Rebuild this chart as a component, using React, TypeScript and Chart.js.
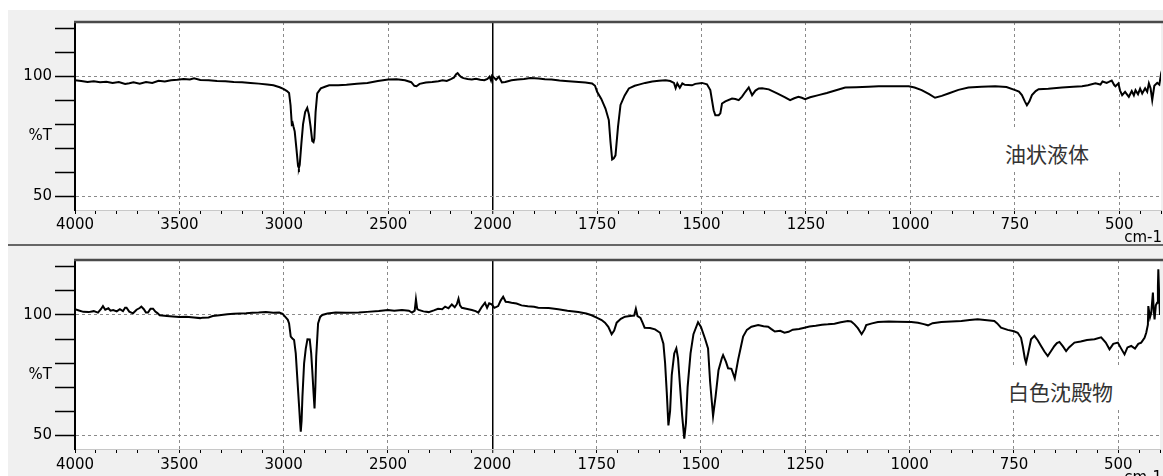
import React, { useEffect, useRef } from 'react';
import { Chart, registerables } from 'chart.js';

Chart.register(...registerables);

// ---- data (wavenumber cm-1, %T) ----
const topWavenumbers = [
  4000, 3970, 3940, 3910, 3880, 3850, 3820, 3790, 3760, 3740, 3720, 3690, 3660, 3630, 3600, 3570, 3540, 3510, 3480, 3450,
  3430, 3400, 3360, 3320, 3280, 3240, 3200, 3160, 3120, 3080, 3050, 3020, 3000, 2985, 2975, 2968, 2962, 2958, 2954, 2948,
  2940, 2932, 2928, 2924, 2916, 2908, 2898, 2888, 2880, 2872, 2864, 2858, 2854, 2848, 2840, 2823, 2800, 2783, 2740, 2700,
  2650, 2600, 2550, 2500, 2460, 2420, 2390, 2375, 2365, 2350, 2320, 2290, 2260, 2240, 2220, 2200, 2185, 2175, 2168, 2160,
  2150, 2140, 2120, 2100, 2080, 2060, 2040, 2025, 2015, 2008, 2003, 1998, 1992, 1985, 1978, 1970, 1955, 1940, 1925, 1910,
  1890, 1875, 1859, 1840, 1826, 1810, 1794, 1778, 1762, 1755, 1750, 1740, 1730, 1722, 1718, 1714, 1710, 1706, 1700, 1694,
  1684, 1674, 1660, 1650, 1635, 1618, 1602, 1586, 1575, 1566, 1562, 1558, 1552, 1546, 1540, 1523, 1515, 1499, 1487, 1479,
  1471, 1467, 1459, 1455, 1451, 1443, 1427, 1419, 1411, 1403, 1395, 1387, 1379, 1371, 1363, 1355, 1339, 1319, 1300, 1288,
  1278, 1268, 1260, 1252, 1240, 1220, 1200, 1180, 1156, 1130, 1100, 1076, 1040, 1004, 990, 973, 955, 941, 925, 909,
  885, 861, 830, 797, 770, 749, 740, 733, 726, 721, 715, 709, 700, 693, 670, 637, 610, 589, 575, 557,
  545, 540, 530, 525, 518, 512, 509, 502, 498, 493, 486, 477, 470, 465, 461, 455, 450, 445, 438, 433,
  429, 425, 421, 416, 409, 404, 401, 400,
];
const topTransmittance = [
  98.3, 98.0, 97.6, 97.9, 97.5, 97.7, 97.2, 97.6, 96.8, 97.1, 97.5, 96.9, 97.6, 97.2, 98.1, 97.8, 98.3, 98.5, 98.8, 98.6,
  99.1, 98.4, 98.3, 98.0, 97.9, 97.6, 97.5, 97.2, 96.9, 96.5, 96.2, 95.4, 94.6, 93.8, 93.0, 88.0, 80.0, 80.5, 79.0, 77.0,
  70.0, 62.5, 61.7, 63.0, 72.0, 80.0, 85.0, 86.8, 84.0, 79.0, 73.0, 72.5, 74.0, 85.0, 92.8, 94.9, 95.7, 96.2, 96.2, 96.4,
  96.8, 97.2, 98.0, 98.6, 98.7, 98.3, 97.5, 96.0, 95.8, 96.8, 97.4, 97.6, 97.9, 98.3, 98.0, 98.8, 99.5, 100.8, 101.3, 100.4,
  99.6, 99.2, 98.8, 98.6, 98.9, 98.5, 98.3, 98.9, 99.8, 98.2, 100.2, 99.6, 98.5, 99.8, 97.4, 97.6, 98.3, 98.6, 98.8, 99.2,
  99.0, 98.7, 98.6, 98.2, 98.0, 97.8, 97.6, 97.4, 97.0, 96.0, 93.5, 90.5, 86.5, 81.7, 72.6, 65.3, 65.8, 67.0, 78.9, 88.0,
  92.0, 94.9, 96.0, 96.5, 97.2, 97.8, 98.1, 98.3, 98.0, 97.2, 95.0, 97.0, 95.2, 97.0, 96.4, 96.2, 96.8, 97.2, 96.6, 94.2,
  85.8, 83.7, 83.7, 84.5, 88.6, 89.5, 90.7, 90.5, 90.0, 91.5, 93.5, 95.3, 92.1, 94.0, 94.9, 95.0, 94.5, 92.8, 91.2, 90.0,
  90.8, 91.4, 91.0, 90.4, 91.2, 92.1, 93.0, 94.0, 95.3, 95.4, 95.6, 95.8, 95.8, 95.8, 95.3, 94.2, 92.5, 91.0, 91.8, 92.8,
  94.3, 95.3, 95.6, 95.8, 95.5, 94.2, 93.6, 92.1, 89.5, 87.9, 89.5, 92.1, 93.8, 94.6, 94.8, 95.3, 95.6, 95.8, 96.2, 97.0,
  96.5, 97.8, 97.2, 97.6, 98.2, 96.3, 95.8, 97.0, 94.0, 92.1, 93.5, 91.4, 93.8, 92.0, 94.2, 92.5, 94.8, 92.8, 95.0, 93.5,
  97.0, 95.0, 90.0, 96.0, 97.2, 96.5, 99.7, 98.5,
];

const bottomWavenumbers = [
  4000, 3985, 3960, 3935, 3910, 3890, 3875, 3866, 3855, 3840, 3830, 3817, 3800, 3785, 3770, 3760, 3753, 3740, 3722, 3705,
  3690, 3682, 3670, 3660, 3650, 3638, 3626, 3615, 3605, 3594, 3560, 3531, 3500, 3467, 3430, 3400, 3388, 3360, 3340, 3308,
  3270, 3240, 3210, 3180, 3150, 3120, 3085, 3050, 3021, 3005, 2989, 2980, 2974, 2966, 2958, 2950, 2942, 2934, 2926, 2921,
  2918, 2914, 2910, 2902, 2894, 2886, 2875, 2868, 2863, 2857, 2852, 2848, 2844, 2835, 2825, 2815, 2790, 2751, 2700, 2640,
  2600, 2544, 2500, 2470, 2433, 2400, 2385, 2372, 2366, 2360, 2353, 2330, 2305, 2280, 2260, 2240, 2226, 2210, 2194, 2180,
  2170, 2162, 2155, 2146, 2125, 2098, 2080, 2067, 2050, 2035, 2025, 2015, 2003, 1995, 1986, 1980, 1974, 1968, 1962, 1954,
  1942, 1930, 1915, 1900, 1890, 1865, 1842, 1820, 1794, 1775, 1762, 1750, 1738, 1730, 1722, 1714, 1708, 1702, 1692, 1682,
  1670, 1660, 1656, 1652, 1645, 1640, 1635, 1622, 1610, 1598, 1590, 1586, 1582, 1578, 1574, 1570, 1564, 1559, 1555, 1550,
  1545, 1540, 1536, 1532, 1525, 1518, 1507, 1500, 1490, 1483, 1478, 1471, 1465, 1458, 1450, 1447, 1440, 1435, 1427, 1419,
  1411, 1404, 1399, 1390, 1379, 1363, 1350, 1339, 1332, 1323, 1310, 1300, 1290, 1280, 1265, 1252, 1240, 1225, 1210, 1196,
  1180, 1165, 1148, 1140, 1132, 1124, 1115, 1108, 1104, 1090, 1076, 1050, 1030, 996, 980, 966, 956, 945, 924, 900,
  876, 856, 837, 820, 797, 790, 781, 765, 750, 741, 733, 729, 724, 721, 716, 709, 701, 693, 685, 677,
  669, 661, 653, 647, 641, 633, 625, 618, 605, 590, 575, 557, 541, 530, 521, 512, 501, 493, 485, 478,
  469, 460, 452, 445, 437, 433, 429, 428, 424, 421, 417, 415, 413, 410, 407, 405, 404, 402, 400,
];
const bottomTransmittance = [
  102.4, 102.0, 101.3, 101.2, 101.6, 101.0, 102.5, 103.7, 102.2, 102.8, 101.8, 102.1, 101.5, 102.4, 101.6, 103.0, 103.0, 101.4, 100.7, 102.2,
  102.9, 103.5, 102.4, 101.0, 101.0, 102.6, 102.6, 101.4, 100.8, 99.9, 99.6, 99.4, 99.2, 99.3, 99.0, 98.7, 98.9, 99.0, 99.6, 99.9,
  100.3, 100.5, 100.6, 100.7, 100.9, 101.0, 101.2, 100.9, 101.0, 100.5, 98.9, 98.0, 96.5, 91.0, 90.2, 89.6, 84.0, 72.9, 62.0, 55.0,
  51.4, 56.0, 66.0, 79.9, 86.0, 89.9, 89.8, 84.0, 77.1, 68.0, 61.1, 70.0, 82.6, 96.5, 99.2, 100.0, 100.6, 101.0, 100.9, 101.0,
  101.3, 101.7, 102.1, 101.8, 102.1, 101.8, 101.0, 101.8, 106.5, 102.5, 102.1, 101.5, 101.2, 101.9, 102.6, 102.4, 103.5, 102.8, 104.4, 103.2,
  104.5, 106.8, 104.0, 103.0, 102.6, 102.1, 101.6, 101.0, 103.4, 105.1, 103.0, 104.9, 104.4, 103.0, 103.7, 106.0, 107.6, 105.5, 105.4, 105.1,
  104.8, 104.0, 103.6, 103.4, 103.0, 102.9, 102.4, 101.8, 101.2, 100.6, 99.9, 98.9, 97.9, 96.8, 95.1, 92.0, 93.5, 96.8, 98.4, 99.3,
  99.6, 99.8, 102.6, 99.5, 98.8, 96.8, 94.7, 94.6, 94.0, 92.6, 88.0, 80.1, 68.0, 54.0, 60.0, 75.0, 84.0, 86.1, 82.0, 70.0,
  58.0, 48.5, 55.0, 70.0, 84.0, 92.0, 97.0, 95.0, 90.0, 86.1, 72.0, 57.9, 66.0, 77.0, 82.0, 83.3, 80.5, 77.8, 77.6, 73.6,
  81.3, 87.0, 91.0, 93.8, 95.1, 95.8, 95.3, 95.1, 94.2, 93.1, 93.4, 92.6, 93.0, 93.9, 94.2, 94.7, 95.2, 95.5, 95.9, 96.1,
  96.4, 97.0, 97.5, 97.3, 96.1, 94.5, 92.0, 94.0, 95.8, 96.5, 97.1, 97.3, 97.2, 97.1, 96.8, 96.2, 95.7, 96.6, 97.1, 97.3,
  97.5, 97.9, 98.2, 97.9, 97.5, 96.5, 94.7, 93.8, 93.2, 92.6, 90.5, 87.1, 82.0, 80.1, 84.0, 89.9, 91.3, 89.5, 87.1, 84.8,
  82.9, 85.0, 87.1, 88.3, 88.8, 87.0, 85.0, 86.5, 88.5, 89.0, 89.6, 89.9, 90.7, 88.5, 85.7, 88.0, 88.5, 86.0, 83.6, 86.5,
  87.1, 86.0, 88.0, 88.5, 90.5, 92.6, 96.0, 103.7, 99.0, 100.9, 109.3, 102.0, 98.2, 104.0, 105.1, 112.0, 119.0, 108.0, 100.0,
];

const xLabelWavenumbers = [4000, 3500, 3000, 2500, 2000, 1750, 1500, 1250, 1000, 750, 500];
const xMinorStepWavenumbers = [100, 50]; // above / below 2000 cm-1
const yTickValues = [50, 60, 70, 75, 80, 90, 100, 110, 120];
const yTickLabels: Record<number, string> = { 100: '100', 75: '%T', 50: '50' };
const yGridValues = [100, 50];
const axisUnit = 'cm-1';
const sampleNames = ['油状液体', '白色沈殿物'];

// IR charts switch scale at 2000 cm-1 (half the wavenumbers per px above it)
const BREAK = 2000;
const toU = (w: number) => (w >= BREAK ? (4000 - w) / 2 : 1000 + (BREAK - w));
const fromU = (u: number) => (u <= 1000 ? 4000 - 2 * u : BREAK - (u - 1000));
const labelU = xLabelWavenumbers.map(toU);
const xTickU: number[] = [];
for (let w = 4000; w > BREAK; w -= xMinorStepWavenumbers[0]) xTickU.push(toU(w));
for (let w = BREAK; w >= 400; w -= xMinorStepWavenumbers[1]) xTickU.push(toU(w));

const FONT = '"DejaVu Sans", sans-serif';

function makeChart(
  canvas: HTMLCanvasElement,
  wn: number[],
  tr: number[],
  yMax: number,
  padTop: number,
  axisH: number,
  unitY: number,
  labelPad: number,
) {
  const panelPlugin = {
    id: 'panel',
    beforeDraw(chart: any) {
      const { ctx, chartArea: a } = chart;
      ctx.save();
      ctx.fillStyle = '#ffffff';
      ctx.fillRect(a.left, a.top, a.right - a.left, a.bottom - a.top);
      ctx.restore();
    },
    afterDraw(chart: any) {
      const { ctx, chartArea: a } = chart;
      ctx.save();
      ctx.strokeStyle = '#4a4a4a';
      ctx.lineWidth = 2.5;
      ctx.beginPath();
      ctx.moveTo(a.left - 1, a.top);
      ctx.lineTo(chart.width, a.top);
      ctx.stroke();
      ctx.fillStyle = '#000';
      ctx.font = '15px ' + FONT;
      ctx.textAlign = 'right';
      ctx.textBaseline = 'top';
      ctx.fillText(axisUnit, chart.width - 1, unitY);
      ctx.restore();
    },
  };

  return new Chart(canvas, {
    type: 'line',
    data: {
      datasets: [
        {
          data: wn.map((w, i) => ({ x: toU(w), y: tr[i] })),
          borderColor: '#000',
          borderWidth: 2,
          pointRadius: 0,
          tension: 0,
          fill: false,
        },
      ],
    },
    options: {
      responsive: false,
      animation: false,
      events: [],
      layout: { padding: { top: padTop, left: 0, right: 0, bottom: 0 } },
      plugins: { legend: { display: false }, tooltip: { enabled: false } },
      scales: {
        x: {
          type: 'linear',
          min: 0,
          max: 2600,
          afterFit: (s: any) => {
            s.height = axisH;
          },
          afterBuildTicks: (s: any) => {
            s.ticks = xTickU.map((v) => ({ value: v }));
          },
          ticks: {
            autoSkip: false,
            maxRotation: 0,
            padding: labelPad,
            color: '#000',
            font: { family: FONT, size: 15 },
            callback: (v: any) => (labelU.includes(v) ? String(fromU(v)) : ''),
          },
          grid: {
            drawOnChartArea: true,
            drawTicks: true,
            tickLength: 4,
            tickWidth: 1,
            tickColor: '#000',
            color: (c: any) => {
              const v = c.tick ? c.tick.value : -1;
              if (v === 1000) return '#000';
              if (v > 0 && v < 2600 && labelU.includes(v)) return '#8a8a8a';
              return 'transparent';
            },
            lineWidth: (c: any) => (c.tick && c.tick.value === 1000 ? 1.5 : 1),
          },
          border: {
            display: true,
            color: '#c8c8c8',
            width: 1,
            dash: (c: any) => (c.tick && c.tick.value === 1000 ? [] : [3, 3]),
          },
        },
        y: {
          type: 'linear',
          min: 44.2,
          max: yMax,
          afterFit: (s: any) => {
            s.width = 75;
          },
          afterBuildTicks: (s: any) => {
            s.ticks = yTickValues.map((v) => ({ value: v }));
          },
          ticks: {
            autoSkip: false,
            padding: 3,
            color: '#000',
            font: { family: FONT, size: 15 },
            callback: (v: any) => yTickLabels[v] ?? '',
          },
          grid: {
            drawOnChartArea: true,
            drawTicks: true,
            tickLength: 20,
            tickWidth: 1.5,
            tickColor: (c: any) => (c.tick && c.tick.value === 75 ? 'transparent' : '#000'),
            color: (c: any) => (c.tick && yGridValues.includes(c.tick.value) ? '#8a8a8a' : 'transparent'),
            lineWidth: 1,
          },
          border: { display: true, color: '#000', width: 2, dash: [3, 3] },
        },
      },
    },
    plugins: [panelPlugin],
  } as any);
}

function Spectrum(props: {
  wn: number[];
  tr: number[];
  yMax: number;
  top: number;
  height: number;
  padTop: number;
  axisH: number;
  unitY: number;
  labelPad: number;
}) {
  const ref = useRef<HTMLCanvasElement>(null);
  useEffect(() => {
    const chart = makeChart(
      ref.current!, props.wn, props.tr, props.yMax, props.padTop, props.axisH, props.unitY, props.labelPad,
    );
    return () => chart.destroy();
  }, []);
  return (
    <canvas
      ref={ref}
      width={1163}
      height={props.height}
      style={{ position: 'absolute', left: 0, top: props.top, width: 1163, height: props.height, display: 'block' }}
    />
  );
}

const labelStyle: React.CSSProperties = {
  position: 'absolute',
  width: 128,
  height: 44,
  lineHeight: '50px',
  background: '#ffffff',
  color: '#333',
  fontFamily: '"Noto Sans CJK JP", sans-serif',
  fontSize: 21,
  whiteSpace: 'nowrap',
  boxSizing: 'border-box',
};

export default function App() {
  return (
    <div style={{ position: 'fixed', left: 0, top: 0, width: 1163, height: 476, background: '#ffffff', overflow: 'hidden' }}>
      <div style={{ position: 'absolute', left: 8, top: 10, width: 1155, height: 466, background: '#f0f0f0' }} />
      <Spectrum wn={topWavenumbers} tr={topTransmittance} yMax={122.6} top={0} height={242} padTop={22} axisH={32} unitY={231} labelPad={2} />
      <div style={{ position: 'absolute', left: 8, top: 244, width: 1155, height: 2, background: '#666' }} />
      <Spectrum wn={bottomWavenumbers} tr={bottomTransmittance} yMax={122.9} top={242} height={234} padTop={18} axisH={27} unitY={229} labelPad={3} />
      <div style={{ ...labelStyle, left: 1000, top: 128, paddingLeft: 5 }}>{sampleNames[0]}</div>
      <div style={{ ...labelStyle, left: 1002, top: 366, height: 43, paddingLeft: 6 }}>{sampleNames[1]}</div>
    </div>
  );
}
